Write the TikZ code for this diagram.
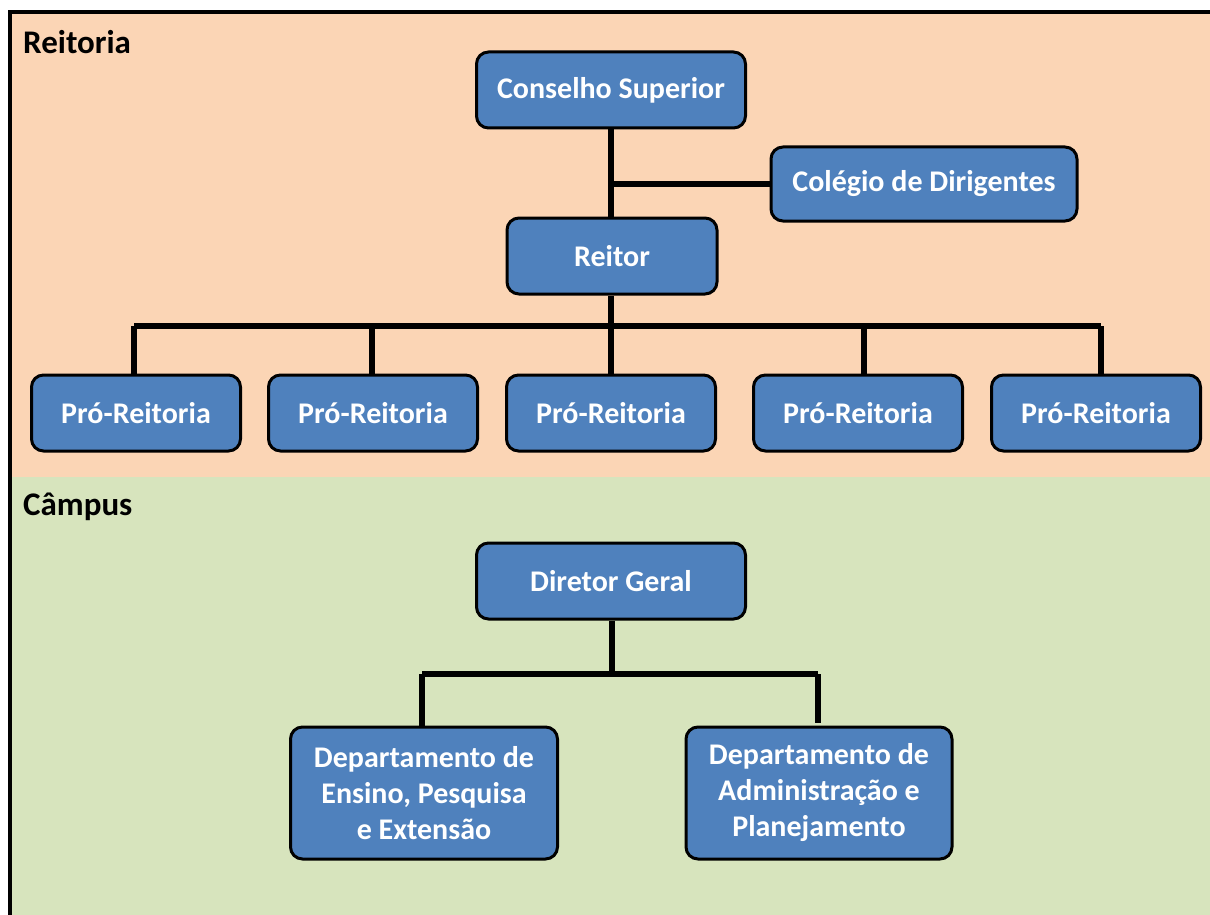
\documentclass[tikz,border=0pt]{standalone}
\usepackage{fontspec}
\setmainfont{Carlito}
\definecolor{peach}{HTML}{FBD5B5}
\definecolor{sage}{HTML}{D7E4BD}
\definecolor{boxblue}{HTML}{4F81BD}
\begin{document}
\begin{tikzpicture}[x=1pt,y=-1pt,
  orgbox/.style={draw=black,line width=3pt,fill=boxblue,rounded corners=12pt,
    text=white,font=\bfseries\fontsize{30}{36}\selectfont,inner sep=0pt,align=center},
  wire/.style={line width=6.5pt,draw=black},
  sectlabel/.style={font=\bfseries\fontsize{33}{38}\selectfont,anchor=west,inner sep=0pt}]
\useasboundingbox (0,0) rectangle (1210,915);
\fill[white] (0,0) rectangle (1210,915);
\fill[peach] (10,12) rectangle (1210,477);
\fill[sage] (10,477) rectangle (1210,915);
\draw[line width=4pt] (10,915) -- (10,12) -- (1210,12);
\node[sectlabel] (reit) at (23,42) {Reitoria};
\node[sectlabel] (camp) at (23,507) {Câmpus};

\node[orgbox,minimum width=269pt,minimum height=76pt] (cs) at (611,90) {Conselho Superior};
\node[orgbox,minimum width=306pt,minimum height=74pt] (cd) at (924,184) {Colégio de Dirigentes};
\node[orgbox,minimum width=210pt,minimum height=76pt] (rt) at (612,256) {Reitor};
\foreach \i/\x in {1/136,2/373,3/611,4/858,5/1096}{
  \node[orgbox,minimum width=209pt,minimum height=76pt] (pr\i) at (\x,413) {Pró-Reitoria};
}
\node[orgbox,minimum width=269pt,minimum height=76pt] (dg) at (611,581) {Diretor Geral};
\node[orgbox,minimum width=267pt,minimum height=132pt] (de) at (424,793) {Departamento de\\Ensino, Pesquisa\\e Extensão};
\node[orgbox,minimum width=266pt,minimum height=132pt] (da) at (819,793) {Departamento de\\Administração e\\Planejamento};

\coordinate (j1) at (611,184);
\coordinate (bar) at (611,326);
\coordinate (bar2) at (612,674);
\coordinate (bl) at (134,326);
\coordinate (br) at (1101,326);
\coordinate (dl) at (422,674);
\coordinate (dr) at (818,674);

\draw[wire] (cs.south -| j1) -- (rt.north -| j1);
\draw[wire] (j1) -- (cd.west);
\draw[wire] (rt.south -| bar) -- (bar);
\draw[wire] (bl) -- (br);
\draw[wire] (bl) -- (pr1.north -| bl);
\draw[wire] (372,326) -- (pr2.north -| 372,0);
\draw[wire] (bar) -- (pr3.north -| bar);
\draw[wire] (864,326) -- (pr4.north -| 864,0);
\draw[wire] (br) -- (pr5.north -| br);
\draw[wire] (dg.south -| bar2) -- (bar2);
\draw[wire] (dl) -- (dr);
\draw[wire] (dl) -- (de.north -| dl);
\draw[wire] (dr) -- ([yshift=3pt]da.north -| dr);
\end{tikzpicture}
\end{document}
